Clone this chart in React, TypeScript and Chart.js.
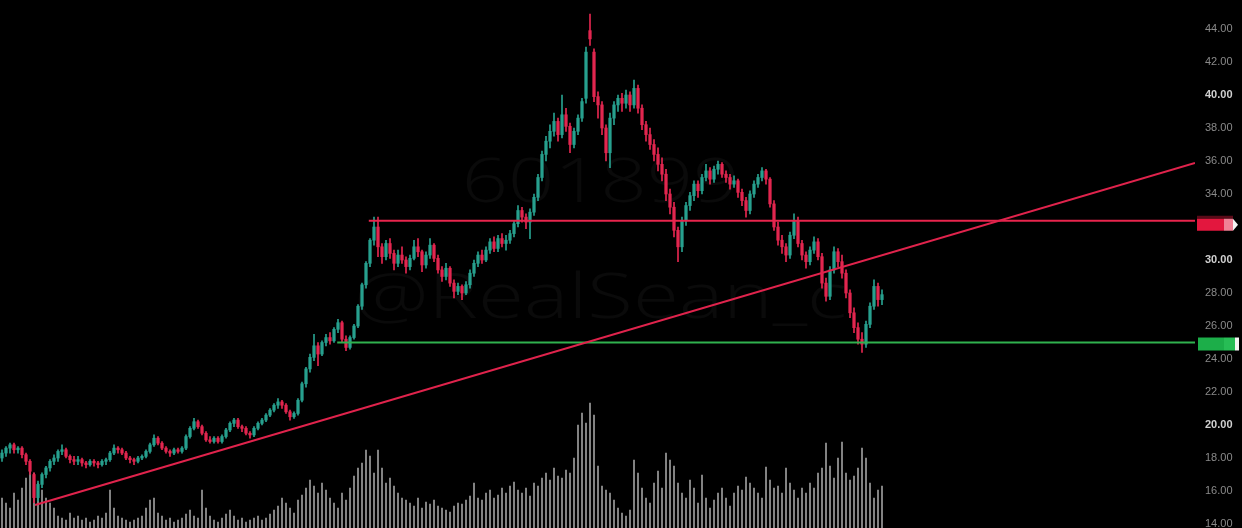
import { useEffect, useRef } from 'react';
import { Chart, registerables } from 'chart.js';
Chart.register(...registerables);

// [open, high, low, close]
const candles: [number, number, number, number][] = [
  [18.0,18.5,17.8,18.3],[18.3,18.7,18.1,18.6],[18.6,18.9,18.3,18.8],[18.8,18.9,18.3,18.5],[18.5,18.7,18.3,18.6],
  [18.6,18.7,18.0,18.2],[18.2,18.3,17.6,17.8],[17.8,17.9,17.0,17.2],[17.0,17.1,15.3,15.6],[15.6,16.6,15.4,16.4],
  [16.4,17.1,16.2,17.0],[17.0,17.5,16.8,17.4],[17.4,17.9,17.2,17.8],[17.8,18.2,17.6,18.0],[18.0,18.5,17.8,18.4],
  [18.4,18.8,18.2,18.5],[18.5,18.6,18.0,18.1],[18.1,18.2,17.7,17.9],[17.9,18.1,17.6,17.8],[17.8,18.1,17.6,17.9],
  [17.9,18.0,17.5,17.7],[17.7,17.8,17.4,17.6],[17.6,17.9,17.5,17.8],[17.8,17.9,17.5,17.7],[17.7,17.8,17.4,17.6],
  [17.6,17.9,17.5,17.8],[17.8,18.0,17.6,17.9],[17.9,18.4,17.8,18.3],[18.3,18.8,18.2,18.6],[18.6,18.7,18.3,18.5],
  [18.5,18.6,18.2,18.3],[18.3,18.4,17.9,18.0],[18.0,18.1,17.7,17.9],[17.9,18.0,17.6,17.8],[17.8,18.1,17.7,18.0],
  [18.0,18.2,17.9,18.1],[18.1,18.5,18.0,18.4],[18.4,18.9,18.3,18.8],[18.8,19.4,18.7,19.2],[19.2,19.3,18.8,18.9],
  [18.9,19.0,18.5,18.6],[18.6,18.7,18.3,18.4],[18.4,18.5,18.1,18.3],[18.3,18.6,18.2,18.5],[18.5,18.6,18.3,18.4],
  [18.4,18.7,18.3,18.6],[18.6,19.4,18.5,19.3],[19.3,19.9,19.2,19.8],[19.8,20.4,19.7,20.2],[20.2,20.3,19.8,19.9],
  [19.9,20.0,19.4,19.5],[19.5,19.6,19.0,19.1],[19.1,19.3,18.9,19.0],[19.0,19.3,18.9,19.2],[19.2,19.3,18.9,19.0],
  [19.0,19.4,18.9,19.3],[19.3,19.8,19.2,19.7],[19.7,20.2,19.6,20.1],[20.1,20.4,19.9,20.3],[20.3,20.4,19.8,19.9],
  [19.9,20.0,19.6,19.8],[19.8,19.9,19.4,19.5],[19.5,19.6,19.2,19.4],[19.4,19.9,19.3,19.8],[19.8,20.2,19.7,20.1],
  [20.1,20.4,20.0,20.3],[20.3,20.7,20.2,20.6],[20.6,21.0,20.5,20.9],[20.9,21.3,20.8,21.2],[21.2,21.6,21.0,21.4],
  [21.4,21.5,21.0,21.2],[21.2,21.3,20.7,20.8],[20.8,20.9,20.3,20.5],[20.5,20.8,20.4,20.7],[20.7,21.6,20.6,21.5],
  [21.5,22.6,21.4,22.5],[22.5,23.5,22.3,23.4],[23.4,24.3,23.2,24.1],[24.1,25.5,23.9,24.8],[24.8,25.0,23.6,24.3],
  [24.3,25.1,24.2,25.0],[25.0,25.5,24.8,25.3],[25.3,25.6,24.9,25.1],[25.1,25.9,25.0,25.8],[25.8,26.4,25.6,26.2],
  [26.2,26.3,25.0,25.2],[25.2,25.4,24.5,24.7],[24.7,25.4,24.6,25.3],[25.3,26.1,25.2,26.0],[26.0,27.3,25.9,27.2],
  [27.2,28.6,27.0,28.5],[28.5,29.9,28.3,29.8],[29.8,31.3,29.6,31.2],[31.2,32.6,30.9,32.0],[32.0,32.6,30.2,30.8],
  [30.8,31.0,29.8,30.2],[30.2,31.2,30.0,31.0],[31.0,31.3,30.1,30.4],[30.4,30.6,29.4,29.8],[29.8,30.6,29.6,30.3],
  [30.3,30.8,29.8,30.0],[30.0,30.2,29.2,29.6],[29.6,30.3,29.4,30.1],[30.1,31.2,30.0,30.8],[30.8,31.3,30.2,30.5],
  [30.5,30.6,29.3,29.7],[29.7,30.5,29.5,30.3],[30.3,31.3,30.1,30.9],[30.9,31.0,29.9,30.1],[30.1,30.3,29.2,29.4],
  [29.4,29.6,28.7,29.0],[29.0,29.8,28.8,29.5],[29.5,29.6,28.4,28.6],[28.6,28.8,27.7,28.1],[28.1,28.6,27.9,28.4],
  [28.4,28.5,27.6,28.0],[28.0,28.7,27.9,28.5],[28.5,29.4,28.3,29.2],[29.2,30.0,29.0,29.8],[29.8,30.5,29.6,30.3],
  [30.3,30.6,29.8,30.0],[30.0,30.8,29.9,30.6],[30.6,31.3,30.4,31.1],[31.1,31.4,30.5,30.7],[30.7,31.5,30.5,31.3],
  [31.3,31.6,30.8,31.0],[31.0,31.5,30.6,31.2],[31.2,31.8,31.0,31.6],[31.6,32.4,31.4,32.2],[32.2,33.3,32.0,33.0],
  [33.0,33.2,32.3,32.6],[32.6,32.8,31.9,32.3],[32.3,33.1,31.3,32.9],[32.9,34.0,32.7,33.8],[33.8,35.2,33.6,35.0],
  [35.0,36.6,34.8,36.4],[36.4,37.5,36.0,37.2],[37.2,38.2,36.8,37.8],[37.8,38.9,37.5,38.4],[38.4,38.6,37.2,37.6],
  [37.6,40.0,37.4,38.8],[38.8,39.2,37.8,38.1],[38.1,38.3,36.5,37.0],[37.0,38.0,36.8,37.8],[37.8,38.8,37.6,38.6],
  [38.6,39.8,38.4,39.6],[39.8,42.9,39.5,42.6],[43.9,44.9,43.0,43.4],[42.6,42.8,39.6,39.9],[39.9,40.2,38.6,39.4],
  [39.4,39.6,37.6,38.0],[38.0,38.2,36.0,36.5],[36.5,38.9,35.6,38.6],[38.6,39.6,38.2,39.4],[39.4,40.0,39.0,39.8],
  [39.8,40.1,39.0,39.5],[39.5,40.3,39.2,40.0],[40.0,40.2,39.0,39.4],[39.4,40.9,39.2,40.4],[40.4,40.6,38.9,39.2],
  [39.2,39.4,37.9,38.2],[38.2,38.4,37.2,37.6],[37.6,38.0,36.7,37.0],[37.0,37.3,36.0,36.4],[36.4,36.8,35.4,35.8],
  [35.8,36.2,34.8,35.2],[35.2,35.5,33.6,34.0],[34.0,34.3,32.8,33.2],[33.2,33.5,31.4,31.8],[31.8,32.0,29.9,30.8],
  [30.8,32.6,30.5,32.4],[32.4,33.5,32.1,33.3],[33.3,34.1,33.0,33.9],[33.9,34.8,33.6,34.6],[34.6,34.8,33.8,34.2],
  [34.2,35.2,34.0,35.0],[35.0,35.8,34.8,35.4],[35.4,35.6,34.6,34.9],[34.9,35.7,34.7,35.5],[35.5,36.0,35.2,35.8],
  [35.8,35.9,35.0,35.2],[35.2,35.4,34.7,35.0],[35.0,35.2,34.3,34.6],[34.6,35.1,34.4,34.8],[34.8,34.9,33.8,34.1],
  [34.1,34.3,33.3,33.6],[33.6,33.8,32.6,33.0],[33.0,34.2,32.8,34.0],[34.0,34.8,33.8,34.6],[34.6,35.2,34.4,35.0],
  [35.0,35.6,34.8,35.4],[35.4,35.5,34.6,34.9],[34.9,35.0,33.2,33.4],[33.4,33.6,31.8,32.0],[32.0,32.3,30.9,31.2],
  [31.2,31.5,30.4,30.8],[30.8,31.0,29.9,30.3],[30.3,31.7,30.1,31.5],[31.5,32.8,31.3,32.4],[32.4,32.6,30.8,31.0],
  [31.0,31.2,30.0,30.3],[30.3,30.5,29.5,29.9],[29.9,30.8,29.7,30.6],[30.6,31.4,30.4,31.1],[31.1,31.3,30.0,30.2],
  [30.2,30.4,28.3,28.6],[28.6,28.9,27.5,27.8],[27.8,29.6,27.6,29.4],[29.4,30.8,29.2,30.5],[30.5,30.7,29.6,29.9],
  [29.9,30.3,28.9,29.2],[29.2,29.4,27.7,28.0],[28.0,28.2,26.5,26.8],[26.8,27.1,25.6,25.9],[25.9,26.2,24.9,25.2],
  [25.2,25.6,24.4,24.9],[24.9,26.3,24.7,26.1],[26.1,27.4,25.9,27.2],[27.2,28.8,27.0,28.4],[28.4,28.6,27.2,27.6],
  [27.6,28.2,27.3,27.9],
];

const volumes: number[] = [
  30,25,20,35,28,40,50,65,55,45,
  38,30,25,20,12,10,8,15,10,12,
  8,10,6,8,12,10,15,38,20,12,
  10,8,6,8,10,12,20,28,30,15,
  12,8,10,6,8,10,14,18,12,10,
  38,20,12,8,6,10,14,18,12,8,
  10,6,8,10,12,8,10,14,18,22,
  30,25,20,15,28,33,40,48,42,35,
  45,38,30,25,20,35,28,40,52,60,
  65,78,72,55,78,60,45,50,42,35,
  30,28,25,22,30,20,26,24,28,22,
  20,18,16,22,25,24,28,32,45,30,
  28,35,38,30,33,40,35,42,46,38,
  35,40,32,45,42,50,55,48,60,52,
  50,58,55,70,103,115,105,125,113,62,
  42,38,35,28,20,15,12,18,68,55,
  40,30,25,45,57,40,75,68,62,45,
  35,30,48,40,25,53,30,20,28,35,
  40,30,22,35,42,38,51,45,40,35,
  30,61,48,40,42,35,60,45,38,30,
  40,35,45,40,55,60,85,62,50,70,
  86,55,48,52,60,80,70,45,30,38,
  42,
];

const priceTicks: number[] = [14, 16, 18, 20, 22, 24, 26, 28, 30, 32, 34, 36, 38, 40, 42, 44];
const boldTicks: number[] = [20, 30, 40];

const resistanceLevel = 32.38;
const resistanceFrom = 91.7;
const supportLevel = 25.0;
const supportFrom = 83.8;
const trendPoints = [
  { x: 8.25, y: 15.15 },
  { x: 298.25, y: 35.88 },
];
const xRange = { min: -0.5, max: 298.25 };
const priceRange = { min: 13.758, max: 45.758 };
const volumeMax = 528;

const watermarkLines = ['601899', '@RealSean_c'];

const UP = '#27a08e';
const DOWN = '#e2264f';

export default function App() {
  const canvasRef = useRef<HTMLCanvasElement | null>(null);

  useEffect(() => {
    document.body.style.margin = '0';
    document.body.style.background = '#000';
    const canvas = canvasRef.current;
    if (!canvas) return;

    const colors = candles.map((c) => (c[3] >= c[0] ? UP : DOWN));

    const watermarkPlugin = {
      id: 'watermark',
      beforeDatasetsDraw(chart: any) {
        const { ctx, chartArea } = chart;
        const cx = (chartArea.left + chartArea.right) / 2 + 3;
        ctx.save();
        ctx.fillStyle = 'rgba(255,255,255,0.04)';
        ctx.textAlign = 'center';
        ctx.textBaseline = 'alphabetic';
        ctx.translate(cx, 202);
        ctx.scale(1.35, 1);
        ctx.font = '300 60px "Open Sans"';
        ctx.fillText(watermarkLines[0], 0, 0);
        ctx.restore();
        ctx.save();
        ctx.fillStyle = 'rgba(255,255,255,0.04)';
        ctx.textAlign = 'center';
        ctx.translate(cx, 318);
        ctx.scale(1.35, 1);
        ctx.font = '300 62px "Open Sans"';
        ctx.fillText(watermarkLines[1], 0, 0);
        ctx.restore();
      },
    };

    const markerPlugin = {
      id: 'markers',
      afterDraw(chart: any) {
        const { ctx, chartArea } = chart;
        const y = chart.scales.y;
        const left = chartArea.right + 2;
        const ry = y.getPixelForValue(resistanceLevel);
        ctx.save();
        ctx.fillStyle = '#5a0a18';
        ctx.fillRect(left, ry - 5, 36, 3);
        ctx.fillStyle = '#e3173e';
        ctx.fillRect(left, ry - 2, 27, 12);
        ctx.fillStyle = '#f08095';
        ctx.fillRect(left + 27, ry - 2, 9, 12);
        ctx.fillStyle = '#f4f4f4';
        ctx.beginPath();
        ctx.moveTo(left + 36, ry - 2);
        ctx.lineTo(left + 41, ry + 4);
        ctx.lineTo(left + 36, ry + 10);
        ctx.closePath();
        ctx.fill();
        const gy = y.getPixelForValue(supportLevel);
        ctx.fillStyle = '#1cae49';
        ctx.fillRect(left + 1, gy - 5, 26, 13);
        ctx.fillStyle = '#27bd55';
        ctx.fillRect(left + 27, gy - 5, 11, 13);
        ctx.fillStyle = '#f4f4f4';
        ctx.fillRect(left + 38, gy - 5, 4, 13);
        ctx.restore();
      },
    };

    const chart = new Chart(canvas, {
      type: 'bar',
      data: {
        datasets: [
          {
            type: 'line',
            data: trendPoints,
            borderColor: '#e0234c',
            borderWidth: 2,
            pointRadius: 0,
            order: 0,
            yAxisID: 'y',
          } as any,
          {
            type: 'line',
            data: [
              { x: resistanceFrom, y: resistanceLevel },
              { x: xRange.max, y: resistanceLevel },
            ],
            borderColor: '#e8254d',
            borderWidth: 2,
            pointRadius: 0,
            order: 0,
            yAxisID: 'y',
          } as any,
          {
            type: 'line',
            data: [
              { x: supportFrom, y: supportLevel },
              { x: xRange.max, y: supportLevel },
            ],
            borderColor: '#30b14e',
            borderWidth: 1.8,
            pointRadius: 0,
            order: 0,
            yAxisID: 'y',
          } as any,
          {
            type: 'bar',
            data: candles.map((c, i) => ({ x: i, y: [c[0], c[3]] })),
            backgroundColor: colors,
            barThickness: 2.6,
            grouped: false,
            borderWidth: 0,
            order: 1,
            yAxisID: 'y',
          } as any,
          {
            type: 'bar',
            data: candles.map((c, i) => ({ x: i, y: [c[2], c[1]] })),
            backgroundColor: colors,
            barThickness: 1,
            grouped: false,
            borderWidth: 0,
            order: 2,
            yAxisID: 'y',
          } as any,
          {
            type: 'bar',
            data: volumes.map((v, i) => ({ x: i, y: v })),
            backgroundColor: 'rgba(165,165,165,0.85)',
            barThickness: 1.2,
            grouped: false,
            borderWidth: 0,
            order: 3,
            yAxisID: 'yv',
          } as any,
        ],
      },
      options: {
        animation: false,
        responsive: false,
        maintainAspectRatio: false,
        layout: { padding: 0 },
        plugins: { legend: { display: false }, tooltip: { enabled: false } },
        scales: {
          x: {
            type: 'linear',
            min: xRange.min,
            max: xRange.max,
            display: false,
            offset: false,
          },
          yv: {
            type: 'linear',
            min: 0,
            max: volumeMax,
            display: false,
          },
          y: {
            type: 'linear',
            position: 'right',
            min: priceRange.min,
            max: priceRange.max,
            border: { display: false },
            grid: { display: false, drawTicks: false },
            afterBuildTicks: (scale: any) => {
              scale.ticks = priceTicks.map((v) => ({ value: v }));
            },
            afterFit: (scale: any) => {
              scale.width = 47;
              scale.paddingTop = 0;
              scale.paddingBottom = 0;
            },
            ticks: {
              padding: 10,
              callback: (v: any) => Number(v).toFixed(2),
              color: (ctx: any) => (boldTicks.includes(ctx.tick?.value) ? '#d0d0d0' : '#8a8a8a'),
              font: (ctx: any) => ({
                family: '"Liberation Sans", Arial, sans-serif',
                size: 11,
                weight: boldTicks.includes(ctx.tick?.value) ? 'bold' : 'normal',
              }),
            },
          },
        },
      },
      plugins: [watermarkPlugin, markerPlugin],
    });

    return () => chart.destroy();
  }, []);

  return (
    <div style={{ width: 1242, height: 528, background: '#000' }}>
      <canvas ref={canvasRef} width={1242} height={528} style={{ display: 'block' }} />
    </div>
  );
}
